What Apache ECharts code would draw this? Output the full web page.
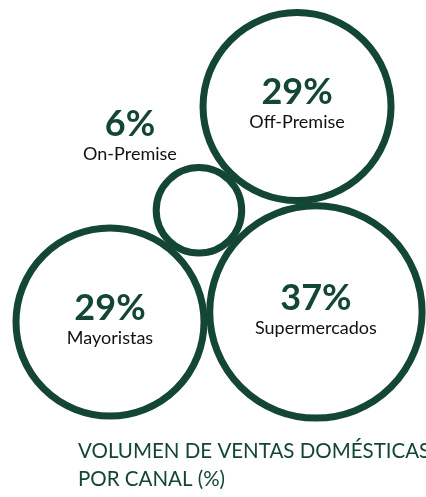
<!DOCTYPE html>
<html>
<head>
<meta charset="utf-8">
<script src="https://cdn.jsdelivr.net/npm/echarts@6/dist/echarts.min.js"></script>
<style>
  html, body { margin: 0; padding: 0; background: #fff; }
  #main { width: 426px; height: 497px; }
</style>
</head>
<body>
<div id="main"></div>
<script>
// datos del gráfico
var canales = ['Off-Premise', 'On-Premise', 'Mayoristas', 'Supermercados'];
var volumen = [29, 6, 29, 37];
var titulo = 'VOLUMEN DE VENTAS DOMÉSTICAS\nPOR CANAL (%)';

var verde = '#134634';
var W = 426, H = 497;

// radio proporcional al área (raíz del valor)
var k = 94 / Math.sqrt(29);
var gap = 6;
function radio(v) { return k * Math.sqrt(v); }

// punto a distancia d1 de p1 y d2 de p2 (elige el de menor y)
function tangente(p1, d1, p2, d2) {
    var dx = p2[0] - p1[0], dy = p2[1] - p1[1];
    var D = Math.sqrt(dx * dx + dy * dy);
    var ux = dx / D, uy = dy / D;
    var a = (d1 * d1 - d2 * d2 + D * D) / (2 * D);
    var h = Math.sqrt(Math.max(0, d1 * d1 - a * a));
    var bx = p1[0] + a * ux, by = p1[1] + a * uy;
    var c1 = [bx - h * uy, by + h * ux];
    var c2 = [bx + h * uy, by - h * ux];
    return c1[1] < c2[1] ? c1 : c2;
}

// empaquetado simple de los círculos, uno tangente a los otros
var r = volumen.map(radio);
var iF = 0, iO = 1, iM = 2, iS = 3;
var pos = [];
pos[iM] = [110, 322];
var ang = -2.8 * Math.PI / 180;
var dMS = r[iM] + r[iS] + gap;
pos[iS] = [pos[iM][0] + dMS * Math.cos(ang), pos[iM][1] + dMS * Math.sin(ang)];
pos[iO] = tangente(pos[iM], r[iM] + r[iO] + gap, pos[iS], r[iS] + r[iO] + gap);
pos[iF] = tangente(pos[iO], r[iO] + r[iF] + gap, pos[iS], r[iS] + r[iF] + gap);

var datos = canales.map(function (c, i) {
    var item = {
        name: c,
        value: [pos[i][0], pos[i][1], volumen[i]],
        symbolSize: 2 * r[i]
    };
    if (i === iO) {
        item.label = { offset: [-69, -75] };
    }
    return item;
});

var myChart = echarts.init(document.getElementById('main'));

var option = {
    animation: false,
    title: {
        text: titulo,
        left: 78,
        top: 437,
        padding: 0,
        textStyle: {
            color: verde,
            fontFamily: 'Lato',
            fontWeight: 'normal',
            fontSize: 20.5,
            lineHeight: 28
        }
    },
    grid: { left: 0, right: 0, top: 0, bottom: 0 },
    xAxis: { type: 'value', min: 0, max: W, show: false },
    yAxis: { type: 'value', min: 0, max: H, inverse: true, show: false },
    series: [{
        type: 'scatter',
        data: datos,
        itemStyle: {
            color: '#fff',
            borderColor: verde,
            borderWidth: 7,
            opacity: 1
        },
        label: {
            show: true,
            position: 'inside',
            offset: [0, -3],
            formatter: function (p) {
                return '{p|' + p.value[2] + '%}\n{n|' + p.name + '}';
            },
            rich: {
                p: {
                    fontFamily: 'Lato',
                    fontWeight: 'bold',
                    fontSize: 36,
                    lineHeight: 38,
                    color: verde,
                    align: 'center'
                },
                n: {
                    fontFamily: 'Lato',
                    fontSize: 18,
                    lineHeight: 22,
                    color: '#111',
                    align: 'center'
                }
            }
        },
        emphasis: { disabled: true }
    }]
};

myChart.setOption(option);
</script>
</body>
</html>
